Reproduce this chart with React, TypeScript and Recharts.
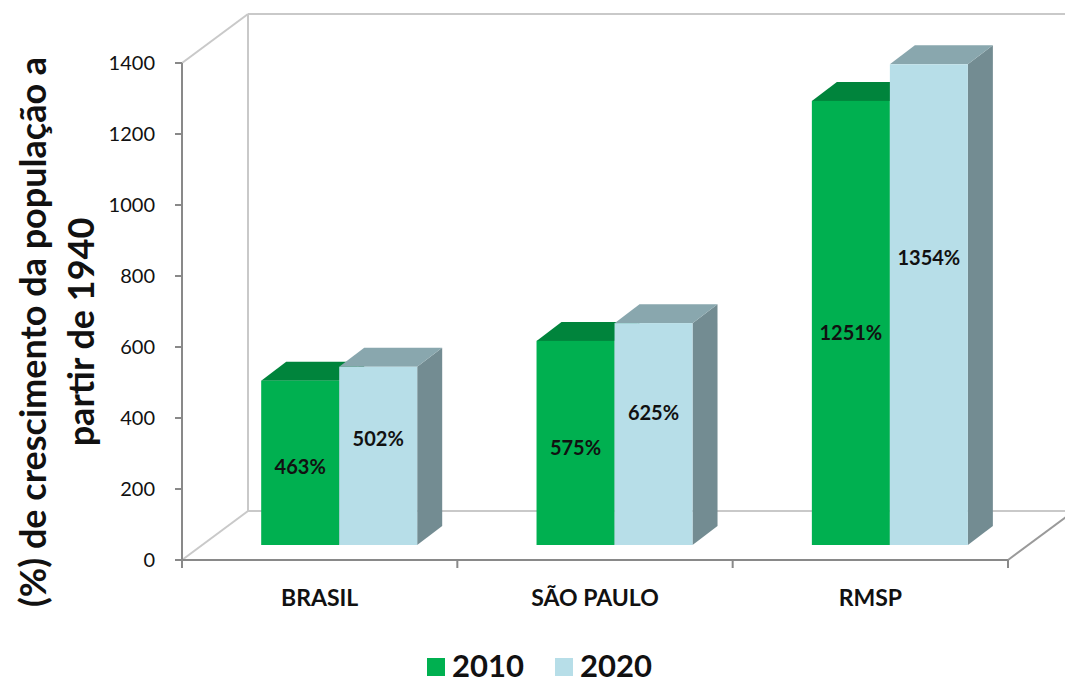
import React from "react";
import { BarChart, Bar, XAxis, YAxis, LabelList } from "recharts";

// data
const categories = ["BRASIL", "SÃO PAULO", "RMSP"];
const values2010 = [463, 575, 1251];
const values2020 = [502, 625, 1354];
const yTicks = [0, 200, 400, 600, 800, 1000, 1200, 1400];
const seriesNames = ["2010", "2020"];

const W = 1065;
const H = 683;
// plot box (front plane)
const PL = 182;
const PR = 1008;
const PT = 63;
const PB = 560;
// wall depth
const WDX = 66;
const WDY = 49;
// bars stand part-way into the floor
const SHIFT_X = 20;
const SHIFT_Y = 15;
// bar depth
const BDX = 25;
const BDY = 19;

const FONT = "Lato, 'Open Sans', sans-serif";

const colors = {
  "2010": { front: "#00B050", top: "#00843C", side: "#006B30" },
  "2020": { front: "#B7DEE8", top: "#89A7AE", side: "#738C92" },
};

const data = categories.map((name, i) => ({
  name,
  v2010: values2010[i],
  v2020: values2020[i],
}));

const make3DBar = (c: { front: string; top: string; side: string }) => (props: any) => {
  const { x, y, width, height } = props;
  if (height == null || width == null) return null;
  const fx = x + SHIFT_X;
  const fy = y - SHIFT_Y;
  const w = width;
  const h = height;
  return (
    <g>
      <polygon
        points={`${fx + w},${fy} ${fx + w + BDX},${fy - BDY} ${fx + w + BDX},${fy + h - BDY} ${fx + w},${fy + h}`}
        fill={c.side}
      />
      <polygon
        points={`${fx},${fy} ${fx + BDX},${fy - BDY} ${fx + w + BDX},${fy - BDY} ${fx + w},${fy}`}
        fill={c.top}
      />
      <rect x={fx} y={fy} width={w} height={h} fill={c.front} />
    </g>
  );
};

const makeLabel = (frac: number) => (props: any) => {
  const { x, y, width, height, value } = props;
  const cx = x + width / 2 + SHIFT_X;
  const bottom = y + height - SHIFT_Y;
  return (
    <text
      x={cx}
      y={bottom - height * frac}
      textAnchor="middle"
      dominantBaseline="central"
      fontFamily={FONT}
      fontWeight={700}
      fontSize={20}
      fill="#111"
    >
      {value}%
    </text>
  );
};

const Walls = () => {
  const band = (PR - PL) / categories.length;
  const ticks = [];
  for (let i = 0; i <= categories.length; i++) ticks.push(PL + i * band);
  return (
    <svg width={W} height={H} style={{ position: "absolute", left: 0, top: 0 }}>
      <g stroke="#C9C9C9" strokeWidth={2} fill="none">
        <line x1={PL} y1={PT} x2={PL + WDX} y2={PT - WDY} />
        <line x1={PL + WDX} y1={PT - WDY} x2={W + 20} y2={PT - WDY} />
        <line x1={PL + WDX} y1={PT - WDY} x2={PL + WDX} y2={PB - WDY} />
        <line x1={PL} y1={PB} x2={PL + WDX} y2={PB - WDY} />
        <line x1={PL + WDX} y1={PB - WDY} x2={W + 20} y2={PB - WDY} />
      </g>
      <line x1={PR} y1={PB} x2={PR + WDX} y2={PB - WDY} stroke="#9A9A9A" strokeWidth={2} />
      <g stroke="#898989" strokeWidth={2}>
        {ticks.map((t) => (
          <line key={t} x1={t} y1={PB} x2={t} y2={PB + 8} />
        ))}
      </g>
    </svg>
  );
};

const Legend2 = () => {
  const items = [
    { name: seriesNames[0], color: colors["2010"].front, x: 427 },
    { name: seriesNames[1], color: colors["2020"].front, x: 555 },
  ];
  return (
    <svg width={W} height={H} style={{ position: "absolute", left: 0, top: 0 }}>
      {items.map((it) => (
        <g key={it.name}>
          <rect x={it.x} y={658} width={18} height={18} fill={it.color} />
          <text
            x={it.x + 25}
            y={677}
            fontFamily={FONT}
            fontWeight={700}
            fontSize={31}
            fill="#111"
          >
            {it.name}
          </text>
        </g>
      ))}
    </svg>
  );
};

const YTitle = () => (
  <g fontFamily={FONT} fontWeight={700} fontSize={36} fill="#111">
    <text x={32} y={332} textAnchor="middle" dominantBaseline="central" transform="rotate(-90 32 332)">
      (%) de crescimento da população a
    </text>
    <text x={80} y={332} textAnchor="middle" dominantBaseline="central" transform="rotate(-90 80 332)">
      partir de 1940
    </text>
  </g>
);

const App = () => {
  return (
    <div style={{ position: "absolute", left: 0, top: 0, width: W, height: H, background: "#fff" }}>
      <Walls />
      <div style={{ position: "absolute", left: 0, top: 0 }}>
        <BarChart
          width={W}
          height={H}
          data={data}
          margin={{ top: PT, right: W - PR, bottom: 63, left: 0 }}
          barCategoryGap="21.5%"
          barGap={0}
        >
          <XAxis
            dataKey="name"
            height={H - PB - 63}
            axisLine={{ stroke: "#898989", strokeWidth: 2 }}
            tickLine={false}
            tickSize={0}
            tickMargin={30}
            tick={{ fontFamily: FONT, fontWeight: 700, fontSize: 23, fill: "#111" }}
          />
          <YAxis
            width={PL}
            domain={[0, 1400]}
            ticks={yTicks}
            interval={0}
            axisLine={{ stroke: "#898989", strokeWidth: 2 }}
            tickLine={{ stroke: "#898989", strokeWidth: 2 }}
            tickSize={7}
            tickMargin={20}
            tick={{ fontFamily: FONT, fontSize: 20, fill: "#111" }}
            label={{ content: () => <YTitle /> }}
          />
          <Bar dataKey="v2010" isAnimationActive={false} shape={make3DBar(colors["2010"])}>
            <LabelList dataKey="v2010" content={makeLabel(0.48)} />
          </Bar>
          <Bar dataKey="v2020" isAnimationActive={false} shape={make3DBar(colors["2020"])}>
            <LabelList dataKey="v2020" content={makeLabel(0.6)} />
          </Bar>
        </BarChart>
      </div>
      <Legend2 />
    </div>
  );
};

export default App;
